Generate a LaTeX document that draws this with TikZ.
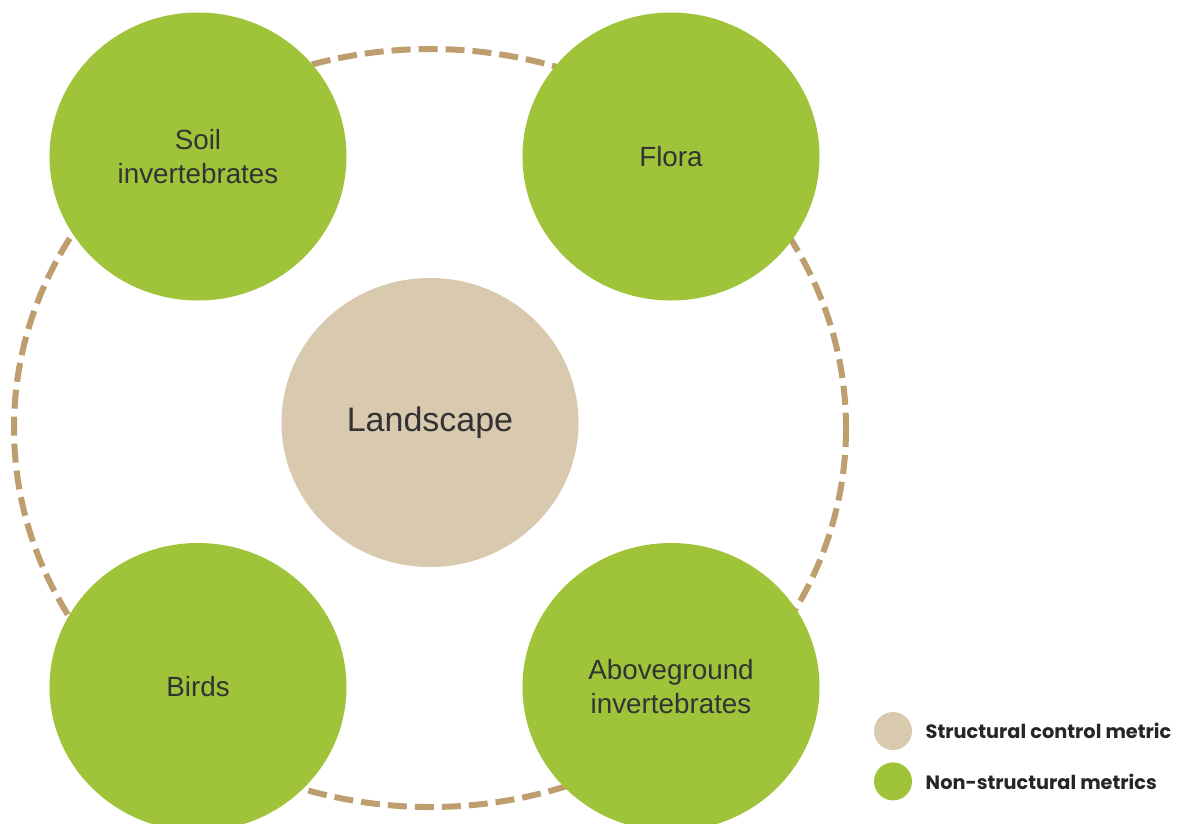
\documentclass[tikz,border=0pt]{standalone}
\usepackage{fontspec}
\setmainfont{Liberation Sans}
\newfontfamily\legendfont{Poppins}
\usetikzlibrary{positioning, shapes.geometric}
\definecolor{metricgreen}{HTML}{9FC43A}
\definecolor{controlbeige}{HTML}{D9C9AF}
\definecolor{ringtan}{HTML}{BE9E6E}
\definecolor{labelgray}{HTML}{333333}
\tikzstyle{metric} = [ellipse, minimum width=297pt, minimum height=288pt, inner sep=0pt, fill=metricgreen, text=labelgray, align=center, font=\fontsize{27.8}{34}\selectfont]
\tikzstyle{control} = [ellipse, minimum width=297pt, minimum height=289pt, inner sep=0pt, fill=controlbeige, text=labelgray, align=center, font=\fontsize{34}{40}\selectfont]
\tikzstyle{ring} = [draw=ringtan, line width=6pt, dash pattern=on 19pt off 8pt]
\tikzstyle{keydot} = [circle, minimum size=38pt, inner sep=0pt]
\tikzstyle{keytext} = [right, text=black!85, font=\legendfont\bfseries\fontsize{19.3}{22}\selectfont]

\begin{document}
\begin{tikzpicture}[x=1pt, y=-1pt]
    \useasboundingbox (0,0) rectangle (1181,823);
    \clip (0,0) rectangle (1181,823);
    \fill[white] (0,0) rectangle (1181,823);

    \draw [ring] (430,428) ellipse [x radius=416, y radius=379];

    \node (land) [control] at (430,422.5) {Landscape};
    \node (soil) [metric] at (198,156.5) {Soil\\invertebrates};
    \node (flora) [metric] at (671,156.5) {Flora};
    \node (birds) [metric] at (198,687) {Birds};
    \node (above) [metric] at (671,687) {Aboveground\\invertebrates};

    \node (keyctrl) [keydot, fill=controlbeige] at (893,731) {};
    \node (keymetric) [keydot, fill=metricgreen, below=12pt of keyctrl] {};
    \node (keyctrltext) [keytext, right=10pt of keyctrl] {Structural control metric};
    \node (keymetrictext) [keytext, right=10pt of keymetric] {Non-structural metrics};
\end{tikzpicture}
\end{document}
